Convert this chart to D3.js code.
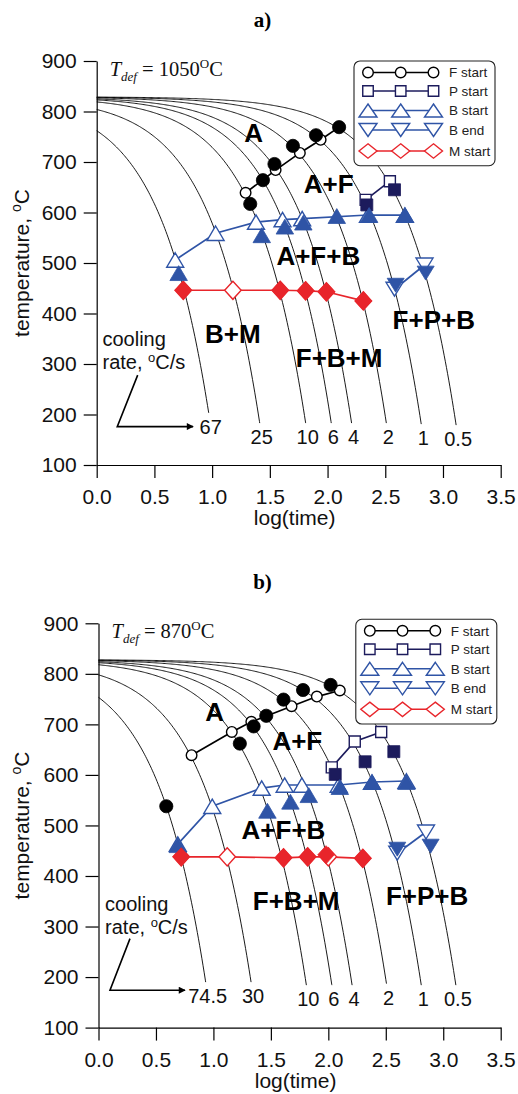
<!DOCTYPE html>
<html lang="en">
<head>
<meta charset="UTF-8">
<title>CCT diagrams</title>
<script src="https://d3js.org/d3.v7.min.js"></script>
<style>
  body { margin: 0; background: #fff; }
  text { font-family: "Liberation Sans", Arial, sans-serif; }
  text.serif { font-family: "Liberation Serif", "Times New Roman", serif; }
</style>
</head>
<body>
<div id="chart"></div>
<script>
// ---- data: panel a) Tdef = 1050 C ----
const ratesA = [67, 25, 10, 6, 4, 2, 1, 0.5];
const rateLabelsA = ["67", "25", "10", "6", "4", "2", "1", "0.5"];
const curveEndA = [203, 183, 183, 183, 183, 183, 181, 179];   // temperature where each curve stops
const fStartOpenA = [[1.29, 639], [1.55, 684], [1.76, 718], [1.94, 744], [2.10, 769]];
const fStartFillA = [[1.33, 617], [1.44, 664], [1.54, 696], [1.70, 732], [1.90, 753], [2.10, 769]];
const pStartOpenA = [[2.33, 625], [2.54, 662]];
const pStartFillA = [[2.34, 615], [2.58, 645]];
const bStartOpenA = [[0.68, 506], [1.03, 559], [1.38, 581], [1.61, 586], [1.78, 588], [2.35, 595], [2.67, 595]];
const bStartFillA = [[0.71, 480], [1.43, 555], [1.63, 572], [1.79, 580], [2.08, 593], [2.36, 595], [2.67, 595]];
const bEndOpenA = [[2.58, 448], [2.84, 496]];
const bEndFillA = [[2.59, 456], [2.85, 480]];
const mStartOpenA = [[0.75, 446], [1.18, 446], [1.59, 446], [1.81, 445], [1.99, 443], [2.31, 425]];
const mStartFillA = [[0.75, 446], [1.59, 446], [1.81, 445], [1.99, 443], [2.31, 425]];
const regionsA = [["A", 1.36, 759], ["A+F", 2.01, 658], ["A+F+B", 1.92, 514], ["B+M", 1.18, 361],
                  ["F+B+M", 2.10, 312], ["F+P+B", 2.92, 387]];

// ---- data: panel b) Tdef = 870 C ----
const ratesB = [74.5, 30, 10, 6, 4, 2, 1, 0.5];
const rateLabelsB = ["74.5", "30", "10", "6", "4", "2", "1", "0.5"];
const curveEndB = [190, 190, 184, 184, 184, 187, 184, 184];
const fStartOpenB = [[0.81, 639], [1.16, 685], [1.33, 705], [1.68, 736], [1.90, 755], [2.10, 767]];
const fStartFillB = [[0.59, 538], [1.23, 662], [1.35, 696], [1.46, 717], [1.61, 749], [1.78, 768], [2.02, 778]];
const pStartOpenB = [[2.03, 615], [2.23, 666], [2.46, 685]];
const pStartFillB = [[2.06, 601], [2.32, 626], [2.57, 646]];
const bStartOpenB = [[0.69, 463], [0.99, 538], [1.42, 574], [1.62, 580], [1.77, 580], [2.09, 580], [2.38, 586], [2.68, 588]];
const bStartFillB = [[0.69, 461], [1.47, 529], [1.67, 547], [1.83, 560], [2.10, 576], [2.38, 586], [2.68, 586]];
const bEndOpenB = [[2.60, 445], [2.85, 487]];
const bEndFillB = [[2.60, 453], [2.89, 459]];
const mStartOpenB = [[0.72, 438], [1.12, 438], [1.61, 436], [1.82, 438], [2.00, 438], [2.30, 435]];
const mStartFillB = [[0.72, 438], [1.61, 436], [1.82, 438], [1.98, 442], [2.30, 435]];
const regionsB = [["A", 1.01, 726], ["A+F", 1.73, 667], ["A+F+B", 1.61, 491],
                  ["F+B+M", 1.72, 352], ["F+P+B", 2.86, 362]];

const legendNames = ["F start", "P start", "B start", "B end", "M start"];
const xTicks = [0, 0.5, 1, 1.5, 2, 2.5, 3, 3.5];
const yTicks = [100, 200, 300, 400, 500, 600, 700, 800, 900];

// colours per series
const colF = "#000", colP = "#1c1b5c", colB = "#2f54a6", colM = "#e8252b";

// marker shapes as d3 symbol types (size = width^2, k = height / width)
const shapeType = (kind, k) => ({
  draw(ctx, s) {
    const w = Math.sqrt(s), a = w / 2, b = w * k / 2;
    if (kind === "up") { ctx.moveTo(0, -b); ctx.lineTo(a, b); ctx.lineTo(-a, b); }
    else if (kind === "down") { ctx.moveTo(0, b); ctx.lineTo(a, -b); ctx.lineTo(-a, -b); }
    else if (kind === "dia") { ctx.moveTo(0, -b); ctx.lineTo(a, 0); ctx.lineTo(0, b); ctx.lineTo(-a, 0); }
    else { ctx.moveTo(-a, -b); ctx.lineTo(a, -b); ctx.lineTo(a, b); ctx.lineTo(-a, b); }
    ctx.closePath();
  }
});
const symCircle = r => d3.symbol(d3.symbolCircle, Math.PI * r * r)();
const sym = (kind, w, k) => d3.symbol(shapeType(kind, k), w * w)();

const svg = d3.select("#chart").append("svg")
  .attr("width", 518).attr("height", 1094)
  .style("background", "#fff");

svg.append("defs").append("marker")
  .attr("id", "arr").attr("viewBox", "0 0 10 10").attr("refX", 9).attr("refY", 5)
  .attr("markerWidth", 8).attr("markerHeight", 7).attr("markerUnits", "userSpaceOnUse")
  .attr("orient", "auto")
  .append("path").attr("d", "M0,0L10,5L0,10Z").attr("fill", "#000");

const panels = [
  {
    tag: "a)", tdef: "1050", left: 96.7, right: 500.7, top: 61, bottom: 465, T0: 829,
    rates: ratesA, rateLabels: rateLabelsA, ends: curveEndA, regions: regionsA,
    fo: fStartOpenA, ff: fStartFillA, po: pStartOpenA, pf: pStartFillA,
    bo: bStartOpenA, bf: bStartFillA, eo: bEndOpenA, ef: bEndFillA, mo: mStartOpenA, mf: mStartFillA,
    note: [0.05, 336], arrow: [[0.355, 278], [0.178, 176], [0.835, 176]]
  },
  {
    tag: "b)", tdef: "870", left: 98.5, right: 500.7, top: 623.3, bottom: 1027.6, T0: 828,
    rates: ratesB, rateLabels: rateLabelsB, ends: curveEndB, regions: regionsB,
    fo: fStartOpenB, ff: fStartFillB, po: pStartOpenB, pf: pStartFillB,
    bo: bStartOpenB, bf: bStartFillB, eo: bEndOpenB, ef: bEndFillB, mo: mStartOpenB, mf: mStartFillB,
    note: [0.057, 331], arrow: [[0.274, 276], [0.100, 174], [0.753, 174]]
  }
];

panels.forEach(p => {
  const x = d3.scaleLinear().domain([0, 3.5]).range([p.left, p.right]);
  const y = d3.scaleLinear().domain([100, 900]).range([p.bottom, p.top]);
  const g = svg.append("g");
  const line = d3.line().x(d => x(d[0])).y(d => y(d[1]));

  // panel tag and deformation temperature
  g.append("text").attr("class", "serif").attr("x", 262.5).attr("y", p.top - 34)
    .attr("text-anchor", "middle")
    .attr("font-weight", "bold").attr("font-size", 21).text(p.tag);

  const td = g.append("text").attr("class", "serif").attr("x", p.left + 13).attr("y", p.top + 14.5)
    .attr("font-size", 20.5).attr("fill", "#111");
  td.append("tspan").attr("font-style", "italic").text("T");
  td.append("tspan").attr("font-style", "italic").attr("font-size", 13).attr("dy", 5).text("def");
  td.append("tspan").attr("dy", -5).text(" = " + p.tdef);
  td.append("tspan").attr("font-size", 13).attr("dy", -8).text("O");
  td.append("tspan").attr("dy", 8).text("C");

  // axes
  const ax = g.append("g").attr("transform", `translate(0,${p.bottom})`)
    .call(d3.axisBottom(x).tickValues(xTicks).tickFormat(d3.format(".1f"))
      .tickSize(13).tickSizeOuter(0).tickPadding(11));
  const ay = g.append("g").attr("transform", `translate(${p.left},0)`)
    .call(d3.axisLeft(y).tickValues(yTicks).tickSize(13).tickSizeOuter(0).tickPadding(7));
  [ax, ay].forEach(a => {
    a.attr("font-size", 21);
    a.selectAll("path, line").attr("stroke", "#000").attr("stroke-width", 1.2);
    a.selectAll("text").attr("fill", "#111");
  });

  g.append("text").attr("x", (p.left + p.right) / 2 - 4).attr("y", p.bottom + 60)
    .attr("text-anchor", "middle").attr("font-size", 21).attr("fill", "#111").text("log(time)");

  const yt = g.append("text")
    .attr("transform", `translate(29,${(p.top + p.bottom) / 2}) rotate(-90)`)
    .attr("text-anchor", "middle").attr("font-size", 21).attr("fill", "#111");
  yt.append("tspan").text("temperature, ");
  yt.append("tspan").attr("font-size", 14).attr("dy", -8).text("o");
  yt.append("tspan").attr("dy", 8).text("C");

  // constant-rate cooling paths: T = T0 - rate * t, drawn against log10(t)
  p.rates.forEach((r, i) => {
    const xEnd = Math.log10((p.T0 - p.ends[i]) / r);
    const pts = d3.range(0, xEnd, 0.01).concat([xEnd]).map(v => [v, p.T0 - r * Math.pow(10, v)]);
    g.append("path").attr("d", line(pts)).attr("fill", "none")
      .attr("stroke", "#000").attr("stroke-width", 0.9);
    g.append("text").attr("x", x(xEnd) + 2).attr("y", y(p.ends[i]) + 21)
      .attr("text-anchor", "middle").attr("font-size", 20).attr("fill", "#111")
      .text(p.rateLabels[i]);
  });

  // region labels
  g.selectAll(null).data(p.regions).join("text")
    .attr("x", d => x(d[1])).attr("y", d => y(d[2])).attr("dy", "0.36em")
    .attr("text-anchor", "middle").attr("font-weight", "bold").attr("font-size", 26)
    .attr("fill", "#000").text(d => d[0]);

  // cooling rate note with arrow
  const nt = g.append("text").attr("x", x(p.note[0])).attr("y", y(p.note[1]))
    .attr("font-size", 20).attr("fill", "#111");
  nt.append("tspan").text("cooling");
  nt.append("tspan").attr("x", x(p.note[0])).attr("dy", 23).text("rate, ");
  nt.append("tspan").attr("font-size", 13).attr("dy", -7).text("o");
  nt.append("tspan").attr("dy", 7).text("C/s");
  g.append("path").attr("d", line(p.arrow)).attr("fill", "none")
    .attr("stroke", "#000").attr("stroke-width", 1.6).attr("marker-end", "url(#arr)");

  // series: connected open markers, then filled markers on top
  const drawLine = (pts, col) => g.append("path").attr("d", line(pts)).attr("fill", "none")
    .attr("stroke", col).attr("stroke-width", 1.7);
  const drawPts = (pts, path, col, filled) => g.selectAll(null).data(pts).join("path")
    .attr("transform", d => `translate(${x(d[0])},${y(d[1])})`)
    .attr("d", path)
    .attr("fill", filled ? col : "#fff")
    .attr("stroke", col).attr("stroke-width", filled ? 0.8 : 1.4);

  drawLine(p.fo, colF); drawPts(p.fo, symCircle(5.3), colF, false);
  drawLine(p.po, colP); drawPts(p.po, sym("sq", 11, 1), colP, false);
  drawLine(p.bo, colB); drawPts(p.bo, sym("up", 17, 0.85), colB, false);
  drawLine(p.eo, colB); drawPts(p.eo, sym("down", 17, 0.82), colB, false);
  drawLine(p.mo, colM); drawPts(p.mo, sym("dia", 16.5, 1.1), colM, false);
  drawPts(p.ff, symCircle(6.6), colF, true);
  drawPts(p.pf, sym("sq", 12, 1), colP, true);
  drawPts(p.bf, sym("up", 17.5, 0.85), colB, true);
  drawPts(p.ef, sym("down", 17, 0.82), colB, true);
  drawPts(p.mf, sym("dia", 16.5, 1.1), colM, true);

  // legend
  const lx = p.left + 257.3, ly = p.top - (p.tag === "a)" ? 0 : 4);
  const lg = g.append("g").attr("transform", `translate(${lx},${ly})`);
  lg.append("rect").attr("width", 141).attr("height", 104.7).attr("rx", 6)
    .attr("fill", "#fff").attr("stroke", "#222").attr("stroke-width", 1.1);
  const legSyms = [
    [symCircle(5.3), colF], [sym("sq", 10.5, 1), colP], [sym("up", 18, 0.72), colB],
    [sym("down", 18, 0.72), colB], [sym("dia", 18, 0.8), colM]
  ];
  const rowY = [11.5, 30, 49.5, 69, 90];
  legendNames.forEach((name, i) => {
    const row = lg.append("g").attr("transform", `translate(0,${rowY[i]})`);
    row.append("line").attr("x1", 14).attr("x2", 79.5)
      .attr("stroke", legSyms[i][1]).attr("stroke-width", 1.6);
    [14, 46.7, 79.5].forEach(cx => row.append("path").attr("d", legSyms[i][0])
      .attr("transform", `translate(${cx},0)`).attr("fill", "#fff")
      .attr("stroke", legSyms[i][1]).attr("stroke-width", 1.4));
    row.append("text").attr("x", 95).attr("dy", "0.36em").attr("font-size", 13.5)
      .attr("fill", "#222").text(name);
  });
});
</script>
</body>
</html>
